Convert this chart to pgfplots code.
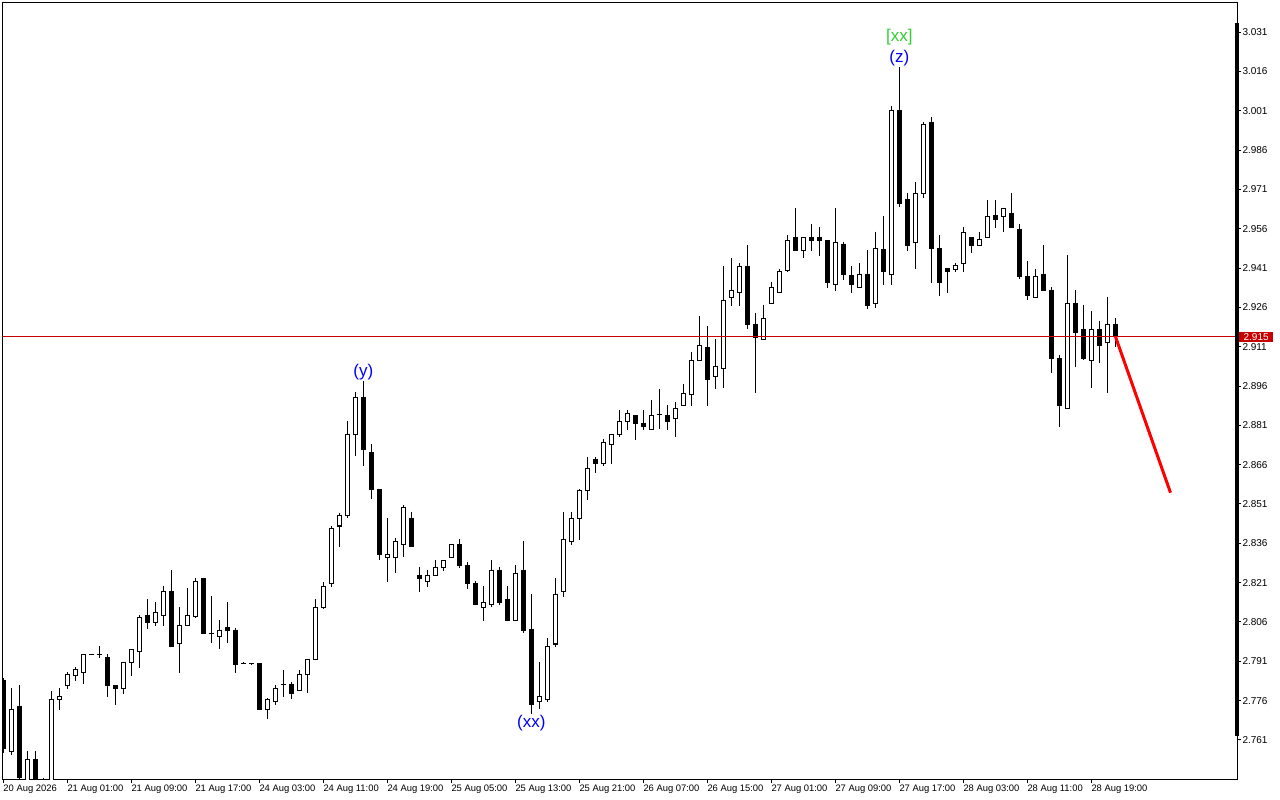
\documentclass[border=0pt]{standalone}
\usepackage{fontspec}
\setmainfont{Liberation Sans}
\usepackage{pgfplots}
\usepackage{pgfplotstable}
\pgfplotsset{compat=1.18}
\definecolor{bidred}{RGB}{200,0,0}
\definecolor{waveblue}{RGB}{0,0,255}
\definecolor{wavegreen}{RGB}{50,205,50}

% hourly candles: bar index, open, high, low, close
\pgfplotstableread{
t o h l c
0 2.7838 2.7845 2.7560 2.7578
1 2.7565 2.7809 2.7553 2.7728
2 2.7739 2.7819 2.7440 2.7467
3 2.7440 2.7568 2.7420 2.7536
4 2.7536 2.7568 2.7420 2.7440
5 2.7440 2.7466 2.7400 2.7420
6 2.7420 2.7797 2.7400 2.7765
7 2.7765 2.7809 2.7724 2.7777
8 2.7817 2.7870 2.7804 2.7858
9 2.7855 2.7889 2.7836 2.7877
10 2.7866 2.7938 2.7823 2.7936
11 2.7936 2.7938 2.7934 2.7936
12 2.7935 2.7968 2.7924 2.7935
13 2.7925 2.7936 2.7775 2.7817
14 2.7818 2.7820 2.7743 2.7805
15 2.7805 2.7909 2.7786 2.7907
16 2.7906 2.7957 2.7855 2.7955
17 2.7947 2.8086 2.7885 2.8077
18 2.8086 2.8147 2.8033 2.8058
19 2.8058 2.8137 2.8046 2.8096
20 2.8085 2.8197 2.8046 2.8177
21 2.8177 2.8258 2.7964 2.7966
22 2.7978 2.8117 2.7866 2.8047
23 2.8046 2.8189 2.8044 2.8085
24 2.8082 2.8226 2.8076 2.8215
25 2.8226 2.8228 2.8013 2.8015
26 2.8017 2.8159 2.7979 2.8017
27 2.8004 2.8068 2.7956 2.8029
28 2.8038 2.8138 2.7979 2.8027
29 2.8029 2.8038 2.7867 2.7899
30 2.7900 2.7907 2.7898 2.7900
31 2.7900 2.7901 2.7899 2.7900
32 2.7900 2.7902 2.7725 2.7727
33 2.7727 2.7769 2.7689 2.7765
34 2.7756 2.7820 2.7744 2.7807
35 2.7820 2.7877 2.7775 2.7820
36 2.7820 2.7832 2.7765 2.7788
37 2.7797 2.7877 2.7795 2.7858
38 2.7858 2.7920 2.7788 2.7918
39 2.7918 2.8147 2.7916 2.8116
40 2.8116 2.8214 2.8108 2.8195
41 2.8207 2.8426 2.8195 2.8417
42 2.8426 2.8477 2.8347 2.8467
43 2.8467 2.8826 2.8455 2.8776
44 2.8776 2.8936 2.8694 2.8917
45 2.8917 2.8980 2.8655 2.8718
46 2.8706 2.8737 2.8528 2.8566
47 2.8566 2.8568 2.8297 2.8318
48 2.8307 2.8455 2.8214 2.8318
49 2.8307 2.8379 2.8246 2.8366
50 2.8356 2.8506 2.8307 2.8497
51 2.8455 2.8481 2.8345 2.8347
52 2.8239 2.8271 2.8176 2.8227
53 2.8214 2.8258 2.8195 2.8239
54 2.8239 2.8297 2.8237 2.8269
55 2.8269 2.8296 2.8256 2.8294
56 2.8307 2.8358 2.8305 2.8356
57 2.8356 2.8377 2.8267 2.8275
58 2.8277 2.8288 2.8186 2.8208
59 2.8208 2.8216 2.8126 2.8128
60 2.8116 2.8197 2.8065 2.8135
61 2.8128 2.8297 2.8116 2.8258
62 2.8258 2.8271 2.8125 2.8134
63 2.8147 2.8197 2.8063 2.8065
64 2.8065 2.8277 2.8063 2.8246
65 2.8258 2.8369 2.8017 2.8027
66 2.8030 2.8167 2.7708 2.7746
67 2.7756 2.7906 2.7727 2.7775
68 2.7763 2.7998 2.7756 2.7966
69 2.7976 2.8227 2.7966 2.8166
70 2.8176 2.8478 2.8157 2.8375
71 2.8366 2.8478 2.8354 2.8455
72 2.8455 2.8567 2.8373 2.8560
73 2.8560 2.8688 2.8525 2.8646
74 2.8678 2.8688 2.8627 2.8665
75 2.8665 2.8758 2.8656 2.8745
76 2.8738 2.8778 2.8663 2.8776
77 2.8776 2.8868 2.8767 2.8824
78 2.8824 2.8868 2.8792 2.8856
79 2.8847 2.8849 2.8754 2.8818
80 2.8818 2.8869 2.8792 2.8805
81 2.8795 2.8907 2.8793 2.8847
82 2.8850 2.8947 2.8795 2.8850
83 2.8847 2.8888 2.8792 2.8824
84 2.8837 2.8898 2.8767 2.8875
85 2.8885 2.8968 2.8883 2.8930
86 2.8928 2.9088 2.8885 2.9058
87 2.9058 2.9227 2.9056 2.9115
88 2.9107 2.9189 2.8885 2.8985
89 2.8998 2.9139 2.8947 2.9036
90 2.9027 2.9418 2.8954 2.9287
91 2.9298 2.9447 2.9266 2.9325
92 2.9317 2.9428 2.9266 2.9416
93 2.9416 2.9498 2.9176 2.9194
94 2.9195 2.9237 2.8935 2.9146
95 2.9138 2.9269 2.9136 2.9218
96 2.9275 2.9355 2.9273 2.9336
97 2.9317 2.9406 2.9315 2.9398
98 2.9402 2.9536 2.9393 2.9515
99 2.9527 2.9639 2.9474 2.9476
100 2.9476 2.9529 2.9447 2.9527
101 2.9527 2.9578 2.9476 2.9514
102 2.9527 2.9568 2.9456 2.9514
103 2.9514 2.9516 2.9335 2.9355
104 2.9348 2.9638 2.9324 2.9508
105 2.9498 2.9511 2.9365 2.9384
106 2.9380 2.9418 2.9316 2.9348
107 2.9337 2.9428 2.9335 2.9386
108 2.9386 2.9479 2.9255 2.9267
109 2.9276 2.9549 2.9257 2.9485
110 2.9479 2.9609 2.9346 2.9396
111 2.9386 3.0028 2.9346 3.0009
112 3.0009 3.0178 2.9644 2.9657
113 2.9670 2.9695 2.9476 2.9496
114 2.9508 2.9737 2.9405 2.9695
115 2.9695 2.9968 2.9676 2.9958
116 2.9966 2.9985 2.9354 2.9485
117 2.9485 2.9536 2.9304 2.9354
118 2.9407 2.9409 2.9316 2.9396
119 2.9405 2.9431 2.9396 2.9418
120 2.9428 2.9568 2.9396 2.9546
121 2.9527 2.9529 2.9466 2.9496
122 2.9496 2.9546 2.9494 2.9517
123 2.9527 2.9670 2.9525 2.9606
124 2.9609 2.9670 2.9562 2.9596
125 2.9606 2.9640 2.9546 2.9638
126 2.9616 2.9695 2.9563 2.9565
127 2.9558 2.9577 2.9367 2.9377
128 2.9377 2.9435 2.9288 2.9304
129 2.9299 2.9405 2.9297 2.9377
130 2.9387 2.9497 2.9321 2.9323
131 2.9326 2.9336 2.9008 2.9065
132 2.9065 2.9078 2.8805 2.8885
133 2.8875 2.9459 2.8873 2.9275
134 2.9275 2.9326 2.9033 2.9163
135 2.9176 2.9269 2.9059 2.9064
136 2.9056 2.9246 2.8953 2.9176
137 2.9176 2.9208 2.9046 2.9114
138 2.9126 2.9300 2.8934 2.9195
139 2.9195 2.9220 2.9110 2.9148
}\candles

\begin{document}
\begin{tikzpicture}
\begin{axis}[
  at={(2.3pt,20.7pt)}, anchor=south west,
  width=1235pt, height=776.6pt, scale only axis,
  xmin=-0.125, xmax=154.25, ymin=2.7460, ymax=3.0422,
  clip mode=individual,
  axis line style={line width=1pt},
  tick align=outside,
  major tick length=4pt,
  tick style={line width=1pt, black},
  xtick pos=left, ytick pos=right,
  yticklabel pos=right,
  xtick={0,8,...,136},
  xticklabels={20 Aug 2026, 21 Aug 01:00, 21 Aug 09:00, 21 Aug 17:00,
    24 Aug 03:00, 24 Aug 11:00, 24 Aug 19:00, 25 Aug 05:00, 25 Aug 13:00,
    25 Aug 21:00, 26 Aug 07:00, 26 Aug 15:00, 27 Aug 01:00, 27 Aug 09:00,
    27 Aug 17:00, 28 Aug 03:00, 28 Aug 11:00, 28 Aug 19:00},
  xticklabel style={anchor=north west, inner sep=0pt, yshift=-1.5pt,
    font=\fontsize{9.4}{10}\selectfont},
  ytick={2.761,2.776,2.791,2.806,2.821,2.836,2.851,2.866,2.881,2.896,
    2.911,2.926,2.941,2.956,2.971,2.986,3.001,3.016,3.031},
  scaled y ticks=false,
  yticklabel style={anchor=west, inner sep=0pt, xshift=1pt,
    font=\fontsize{10}{11}\selectfont,
    /pgf/number format/.cd, fixed, fixed zerofill, precision=3,
    assume math mode=true},
]
% wicks
\addplot[draw=none, mark=none, forget plot,
  error bars/.cd, y dir=minus, y explicit, error mark=none,
  error bar style={draw=black, line width=1pt}]
  table[x=t, y=h, y error minus expr={\thisrow{h}-\thisrow{l}}] {\candles};
% bodies (outline, filled black)
\addplot[draw=none, mark=none, forget plot,
  error bars/.cd, y dir=minus, y explicit, error mark=none,
  error bar style={draw=black, line width=5pt}]
  table[x=t, y expr={max(\thisrow{o},\thisrow{c})+0.0002},
    y error minus expr={abs(\thisrow{c}-\thisrow{o})+0.0004}] {\candles};
% hollow inside of rising candles
\addplot[draw=none, mark=none, forget plot,
  error bars/.cd, y dir=minus, y explicit, error mark=none,
  error bar style={draw=white, line width=3pt}]
  table[x=t,
    y expr={ifthenelse(\thisrow{c}-\thisrow{o}>0.0006,\thisrow{c}-0.0002,5)},
    y error minus expr={ifthenelse(\thisrow{c}-\thisrow{o}>0.0006,\thisrow{c}-\thisrow{o}-0.0004,0)}] {\candles};
% bid line
\addplot[bidred, line width=0.8pt, forget plot] coordinates {(-1,2.9148) (160,2.9148)};
% projection
\addplot[red, line width=3pt, forget plot] coordinates {(139,2.9150) (145.9,2.8553)};

\draw[line width=4pt] (axis cs:154.25,3.0343) -- (axis cs:154.25,2.7625);
\node[fill=bidred, text=white, inner sep=0pt, minimum width=34pt, minimum height=10pt,
  anchor=west, font=\fontsize{10}{11}\selectfont]
  at (axis cs:154.45,2.9148) {2.915};

\node[text=waveblue, font=\fontsize{17}{18}\selectfont] at (axis cs:45,2.9013) {(y)};
\node[text=waveblue, font=\fontsize{17}{18}\selectfont] at (axis cs:66,2.7675) {(xx)};
\node[text=waveblue, font=\fontsize{17}{18}\selectfont] at (axis cs:112,3.0211) {(z)};
\node[text=wavegreen, font=\fontsize{17}{18}\selectfont] at (axis cs:112,3.0291) {[xx]};
\end{axis}
\pgfresetboundingbox
\path[use as bounding box] (0,0) rectangle (1280pt,800pt);
\end{tikzpicture}
\end{document}
